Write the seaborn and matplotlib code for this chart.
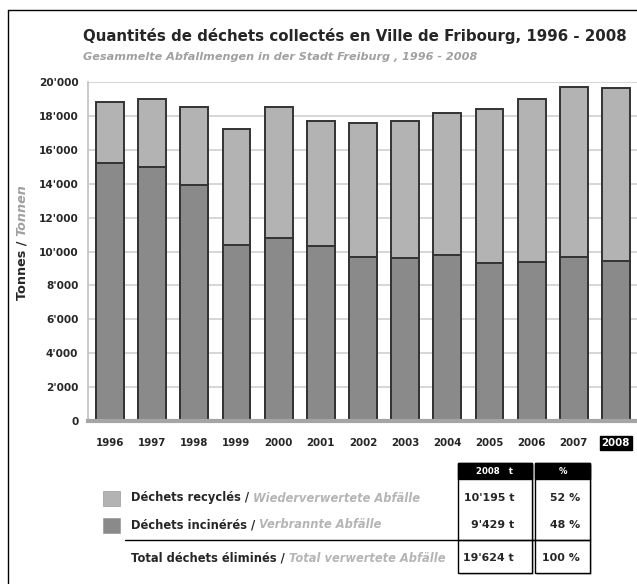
import numpy as np
import pandas as pd
import seaborn as sns
import matplotlib.pyplot as plt
from matplotlib.patches import Rectangle
from matplotlib.lines import Line2D
from matplotlib.ticker import FuncFormatter

# values (tonnes)
years = ["1996", "1997", "1998", "1999", "2000", "2001", "2002",
         "2003", "2004", "2005", "2006", "2007", "2008"]
incinerated = [15200, 15000, 13900, 10400, 10800, 10300, 9700,
               9600, 9800, 9300, 9400, 9700, 9429]
recycled = [3600, 4000, 4600, 6800, 7700, 7400, 7900,
            8100, 8400, 9100, 9600, 10000, 10195]

legend_labels = ["Déchets recyclés / ", "Déchets incinérés / ", "Total déchets éliminés / "]
legend_labels_de = ["Wiederverwertete Abfälle", "Verbrannte Abfälle", "Total verwertete Abfälle"]
table_tonnes = ["10'195 t", "9'429 t", "19'624 t"]
table_pct = ["52 %", "48 %", "100 %"]

df = pd.DataFrame({"year": years, "incinerated": incinerated, "recycled": recycled})
df["total"] = df["incinerated"] + df["recycled"]

light = "#b3b3b3"
dark = "#8a8a8a"
edge = "#333333"
grey_txt = "#a0a0a0"

sns.set_style("white")
plt.rcParams["font.family"] = ["DejaVu Sans"]

W, H = 637, 584
fig = plt.figure(figsize=(W / 100, H / 100), dpi=100)

def fx(px):
    return px / W

def fy(py):
    return 1 - py / H

ax = fig.add_axes([fx(88), fy(421), fx(637) - fx(88), fy(82) - fy(421)])

sns.barplot(data=df, x="year", y="total", color=light, saturation=1, width=0.66,
            edgecolor=edge, linewidth=1.4, errorbar=None, ax=ax)
sns.barplot(data=df, x="year", y="incinerated", color=dark, saturation=1, width=0.66,
            edgecolor=edge, linewidth=1.4, errorbar=None, ax=ax)

ax.set_xlim(-0.52, 11.88)
ax.set_ylim(0, 20000)
ax.set_yticks(np.arange(0, 20001, 2000))
ax.yaxis.set_major_formatter(FuncFormatter(lambda v, p: "0" if v == 0 else f"{int(v):,}".replace(",", "'")))
ax.yaxis.grid(True, color="#cfcfcf", lw=1.2)
ax.set_axisbelow(True)
ax.set_xlabel("")
ax.set_ylabel("")

for s in ["top", "right"]:
    ax.spines[s].set_visible(False)
ax.spines["left"].set_color("#c0c0c0")
ax.spines["left"].set_linewidth(1.2)
ax.spines["bottom"].set_color("#a5a5a5")
ax.spines["bottom"].set_linewidth(3)

ax.tick_params(axis="y", length=4, color="#999999", labelsize=7.6, pad=3)
ax.tick_params(axis="x", which="major", length=0, labelsize=7.4, pad=12)
ax.set_xticks(np.arange(len(years)) + 0.5, minor=True)
ax.tick_params(axis="x", which="minor", length=6, color="#bbbbbb")
for lab in ax.get_yticklabels() + ax.get_xticklabels():
    lab.set_fontweight("bold")
last = ax.get_xticklabels()[-1]
last.set_color("white")
last.set_bbox(dict(facecolor="black", edgecolor="black", pad=1.5))

# outer frame
fig.add_artist(Line2D([fx(8), fx(8)], [fy(10), 0], color="black", lw=1))
fig.add_artist(Line2D([fx(8), 1], [fy(10), fy(10)], color="black", lw=1))

# titles
fig.text(fx(83), fy(41), "Quantités de déchets collectés en Ville de Fribourg, 1996 - 2008",
         fontsize=10.8, fontweight="bold", va="baseline")
fig.text(fx(83), fy(60), "Gesammelte Abfallmengen in der Stadt Freiburg , 1996 - 2008",
         fontsize=8.1, fontweight="bold", style="italic", color=grey_txt, va="baseline")

# y label in two styles
t1 = fig.text(fx(22), fy(300), "Tonnes / ", rotation=90, fontsize=9.2, fontweight="bold",
              ha="center", va="bottom")
fig.add_artist(plt.Annotation("Tonnen", xy=(0.5, 1), xycoords=t1, rotation=90, fontsize=9.2,
                              fontweight="bold", style="italic", color=grey_txt,
                              ha="center", va="bottom"))

# legend rows
row_y = [498, 525, 558]
for i, (lab, lab_de) in enumerate(zip(legend_labels, legend_labels_de)):
    if i < 2:
        col = light if i == 0 else dark
        fig.add_artist(Rectangle((fx(103), fy(row_y[i] + 8)), fx(17), fy(0) - fy(15),
                                 facecolor=col, edgecolor="#999999", lw=0.5))
    a = fig.text(fx(131), fy(row_y[i]), lab, fontsize=8.3, fontweight="bold", va="center")
    fig.add_artist(plt.Annotation(lab_de, xy=(1, 0), xycoords=a, fontsize=8.3,
                                  fontweight="bold", style="italic", color="#b5b5b5",
                                  ha="left", va="bottom"))

fig.add_artist(Line2D([fx(125), fx(590)], [fy(540), fy(540)], color="black", lw=1))

# table with 2008 values
for x0, x1 in [(458, 532), (535, 590)]:
    fig.add_artist(Rectangle((fx(x0 + 2), fy(575)), fx(x1 - x0), fy(0) - fy(110),
                             facecolor="#d0d0d0", edgecolor="none"))
    fig.add_artist(Rectangle((fx(x0), fy(573)), fx(x1 - x0), fy(0) - fy(110),
                             facecolor="white", edgecolor="black", lw=1))
    fig.add_artist(Rectangle((fx(x0), fy(479)), fx(x1 - x0), fy(0) - fy(16),
                             facecolor="black", edgecolor="black", lw=1))
fig.add_artist(Line2D([fx(458), fx(590)], [fy(540), fy(540)], color="black", lw=1))
fig.text(fx(495), fy(471), "2008   t", color="white", fontsize=6.2, fontweight="bold",
         ha="center", va="center")
fig.text(fx(563), fy(471), "%", color="white", fontsize=6.2, fontweight="bold",
         ha="center", va="center")
for i in range(3):
    fig.text(fx(514), fy(row_y[i]), table_tonnes[i], fontsize=7.9, fontweight="bold",
             ha="right", va="center")
    fig.text(fx(580), fy(row_y[i]), table_pct[i], fontsize=7.9, fontweight="bold",
             ha="right", va="center")

plt.savefig("out.png", dpi=100)
